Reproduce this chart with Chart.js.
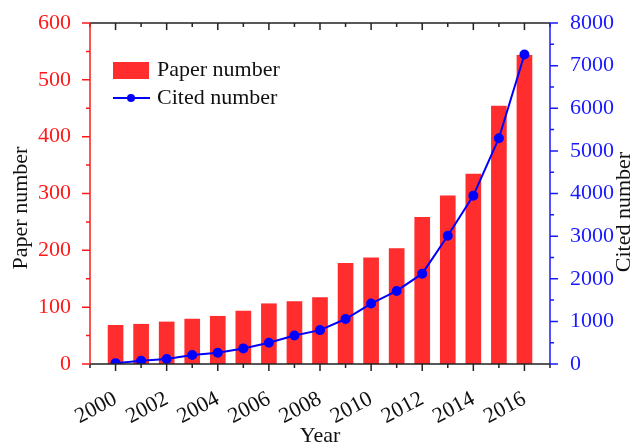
<!DOCTYPE html>
<html>
<head>
<meta charset="utf-8">
<script src="https://cdn.jsdelivr.net/npm/chart.js@4.4.1/dist/chart.umd.min.js"></script>
<style>
  html, body { margin: 0; padding: 0; background: #fff; }
  #wrap { width: 634px; height: 444px; }
</style>
</head>
<body>
<div id="wrap"><canvas id="Chart" width="634" height="444"></canvas></div>
<script>
// data
const years = [2000, 2001, 2002, 2003, 2004, 2005, 2006, 2007, 2008,
               2009, 2010, 2011, 2012, 2013, 2014, 2015, 2016];
const paperNumber = [68, 70, 74, 79, 84, 93, 106, 110, 117,
                     177, 187, 203, 258, 296, 334, 454, 543];
const citedNumber = [20, 77, 117, 210, 265, 366, 498, 670, 795,
                     1055, 1418, 1714, 2119, 3007, 3950, 5297, 7261];

const serif = "'Liberation Serif', 'Times New Roman', serif";
const RED = '#ff1a1a';
const BLUE = '#1a1aff';

// axis lines, major/minor ticks, titles and legend drawn like the original plot
const axisPlugin = {
  id: 'axisFrame',
  afterDatasetsDraw(chart) {
    const ctx = chart.ctx;
    const a = chart.chartArea;
    const x = chart.scales.x, y = chart.scales.y, y1 = chart.scales.y1;
    ctx.save();
    ctx.lineWidth = 1.5;

    // top + bottom (black)
    ctx.strokeStyle = '#222';
    ctx.beginPath();
    ctx.moveTo(a.left, a.top); ctx.lineTo(a.right, a.top);
    ctx.moveTo(a.left, a.bottom); ctx.lineTo(a.right, a.bottom);
    for (let v = 1999; v <= 2017; v++) {
      const px = x.getPixelForValue(v);
      const len = v % 2 === 0 ? 7 : 4;
      ctx.moveTo(px, a.bottom); ctx.lineTo(px, a.bottom + len);
      ctx.moveTo(px, a.top); ctx.lineTo(px, a.top + len);
    }
    ctx.stroke();

    // left (red)
    ctx.strokeStyle = RED;
    ctx.beginPath();
    ctx.moveTo(a.left, a.top); ctx.lineTo(a.left, a.bottom);
    for (let v = 0; v <= 600; v += 50) {
      const py = y.getPixelForValue(v);
      const len = v % 100 === 0 ? 8 : 4;
      ctx.moveTo(a.left, py); ctx.lineTo(a.left - len, py);
    }
    ctx.stroke();

    // right (blue)
    ctx.strokeStyle = BLUE;
    ctx.beginPath();
    ctx.moveTo(a.right, a.top); ctx.lineTo(a.right, a.bottom);
    for (let v = 0; v <= 8000; v += 500) {
      const py = y1.getPixelForValue(v);
      const len = v % 1000 === 0 ? 8 : 4;
      ctx.moveTo(a.right, py); ctx.lineTo(a.right + len, py);
    }
    ctx.stroke();

    // axis titles
    ctx.fillStyle = '#111';
    ctx.font = "22px " + serif;
    ctx.textAlign = 'center';
    ctx.textBaseline = 'middle';
    ctx.save();
    ctx.translate(21, 208);
    ctx.rotate(-Math.PI / 2);
    ctx.fillText('Paper number', 0, 0);
    ctx.restore();
    ctx.save();
    ctx.translate(624, 212);
    ctx.rotate(-Math.PI / 2);
    ctx.fillText('Cited number', 0, 0);
    ctx.restore();
    ctx.textBaseline = 'alphabetic';
    ctx.fillText('Year', (a.left + a.right) / 2, 442);

    // legend
    const lx = a.left + 23, ly1 = a.top + 47, ly2 = a.top + 75;
    ctx.fillStyle = '#ff2d2d';
    ctx.fillRect(lx, ly1 - 8, 36, 17);
    ctx.strokeStyle = '#0000ff';
    ctx.lineWidth = 2;
    ctx.beginPath();
    ctx.moveTo(lx, ly2); ctx.lineTo(lx + 37, ly2);
    ctx.stroke();
    ctx.fillStyle = '#0000ff';
    ctx.beginPath();
    ctx.arc(lx + 18, ly2, 4, 0, Math.PI * 2);
    ctx.fill();
    ctx.fillStyle = '#111';
    ctx.textBaseline = 'middle';
    ctx.textAlign = 'left';
    ctx.fillText('Paper number', lx + 44, ly1);
    ctx.fillText('Cited number', lx + 44, ly2);
    ctx.restore();
  }
};

let lineCtx = document.getElementById("Chart");
let lineConfig = {
  type: 'bar',
  data: {
    datasets: [
      {
        type: 'line',
        label: 'Cited number',
        data: years.map((yr, i) => ({ x: yr, y: citedNumber[i] })),
        borderColor: '#0000ff',
        backgroundColor: '#0000ff',
        borderWidth: 2,
        pointRadius: 4,
        pointHoverRadius: 4,
        tension: 0,
        yAxisID: 'y1',
        order: 0
      },
      {
        label: 'Paper number',
        data: years.map((yr, i) => ({ x: yr, y: paperNumber[i] })),
        backgroundColor: '#ff2d2d',
        barThickness: 15,
        yAxisID: 'y',
        order: 1
      }
    ]
  },
  options: {
    responsive: false,
    animation: false,
    layout: { padding: { top: 22, right: 0, left: 0, bottom: 0 } },
    plugins: { legend: { display: false }, tooltip: { enabled: false } },
    scales: {
      x: {
        type: 'linear',
        min: 1999,
        max: 2017,
        offset: false,
        grid: { display: false },
        border: { display: false },
        ticks: {
          stepSize: 1,
          autoSkip: false,
          minRotation: 28,
          maxRotation: 28,
          padding: 14,
          color: '#111',
          font: { family: serif, size: 22 },
          callback: v => (v % 2 === 0 && v > 1999 && v < 2017) ? String(v) : ''
        },
        afterFit: s => { s.height = 80; }
      },
      y: {
        position: 'left',
        min: 0,
        max: 600,
        grid: { display: false },
        border: { display: false },
        ticks: { stepSize: 100, padding: 11, color: RED, font: { family: serif, size: 22, lineHeight: 1 } },
        afterFit: s => { s.width = 90; }
      },
      y1: {
        position: 'right',
        min: 0,
        max: 8000,
        grid: { display: false },
        border: { display: false },
        ticks: { stepSize: 1000, padding: 12, color: BLUE, font: { family: serif, size: 22, lineHeight: 1 }, callback: v => String(v) },
        afterFit: s => { s.width = 84; }
      }
    }
  },
  plugins: [axisPlugin]
};
let lineChart = new Chart(lineCtx, lineConfig);
</script>
</body>
</html>
